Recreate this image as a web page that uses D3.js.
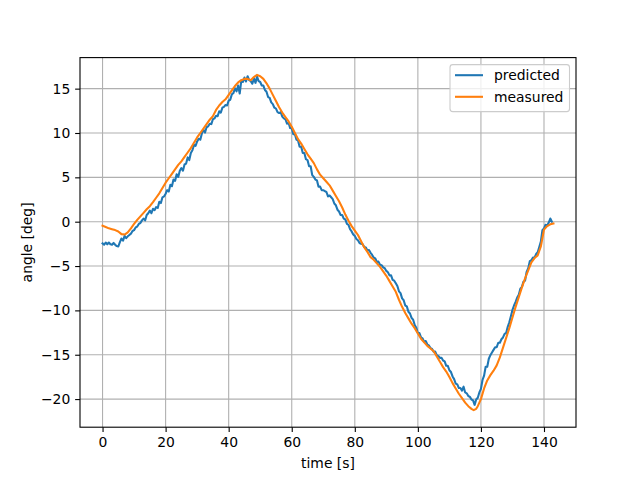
<!DOCTYPE html>
<html><head><meta charset="utf-8">
<script src="https://cdn.jsdelivr.net/npm/d3@7"></script>
<style>body{margin:0;background:#fff}svg{display:block}text{font-family:"DejaVu Sans",sans-serif}</style>
</head><body><svg id="c" width="640" height="480"></svg>
<script>
// predicted: 0.5 s steps from t=0
const predictedStep = 0.5;
const predicted = [
-2.45,-2.6,-2.35,-2.55,-2.35,-2.55,-2.6,-2.4,-2.6,-2.75,
-2.8,-2.3,-1.9,-2.15,-1.6,-1.85,-1.65,-1.5,-1.35,-1.05,
-0.95,-0.65,-0.55,-0.25,-0.15,0.15,0.35,0.15,0.75,0.95,
1.25,0.95,1.45,1.3,1.65,1.55,2.25,2.1,2.75,2.85,
3.15,3.55,3.4,4.15,4.0,4.75,4.6,5.35,5.05,5.75,
6.05,5.75,6.45,6.55,7.25,6.95,7.75,8.05,8.65,8.55,
9.05,9.35,9.25,9.95,10.35,10.05,10.65,10.75,11.05,11.0,
11.55,11.65,11.95,11.9,12.45,12.3,12.85,12.95,13.15,13.1,
13.65,13.75,14.35,14.5,15.05,14.7,15.35,14.45,15.9,15.75,
16.25,15.8,16.4,15.95,15.85,15.55,16.15,15.65,16.35,15.85,
15.75,15.35,15.35,14.85,14.65,14.05,13.95,13.45,13.25,12.85,
12.75,12.35,12.25,12.35,11.85,11.65,11.55,11.05,11.15,10.55,
10.5,9.85,9.85,9.25,9.15,8.45,8.45,7.75,7.75,7.05,
6.95,6.25,6.25,5.25,5.05,4.75,4.65,3.95,3.95,3.55,
3.55,3.45,3.35,2.85,2.95,2.75,2.55,2.05,1.85,1.35,
1.15,0.75,0.75,0.35,0.25,-0.25,-0.35,-0.85,-1.1,-1.45,
-1.6,-1.95,-2.1,-2.4,-2.5,-2.55,-2.85,-2.9,-3.25,-3.2,
-3.5,-3.75,-4.05,-4.15,-4.55,-4.5,-4.85,-4.9,-5.15,-5.25,
-5.55,-5.7,-6.05,-6.05,-6.55,-6.65,-6.95,-7.25,-7.85,-8.05,
-8.65,-8.85,-9.45,-9.55,-10.15,-10.35,-10.85,-11.05,-11.65,-11.95,
-12.55,-12.55,-13.05,-13.15,-13.55,-13.45,-13.85,-13.95,-14.25,-14.35,
-14.65,-14.65,-15.05,-15.15,-15.35,-15.35,-15.65,-15.75,-16.25,-16.25,
-16.75,-16.95,-17.45,-17.75,-18.25,-18.35,-18.75,-18.75,-19.05,-18.6,
-19.25,-19.35,-19.65,-19.75,-20.05,-20.15,-20.65,-20.05,-19.85,-19.25,
-18.85,-17.85,-17.35,-16.35,-16.35,-15.45,-15.05,-14.75,-14.45,-14.15,
-14.15,-13.65,-13.65,-13.25,-13.05,-12.65,-12.55,-11.85,-11.35,-10.65,
-9.95,-9.45,-9.05,-8.55,-8.25,-7.55,-7.35,-6.75,-6.65,-5.65,
-5.25,-4.45,-4.35,-4.05,-4.05,-3.65,-3.45,-2.85,-2.25,-0.95,
-0.75,-0.35,-0.45,-0.1,0.35,0.0];
const measuredT = [0,1,2,3,4,5,6,7,8,9,10,11,12,13,14,15,16,17,18,19,20,21,22,23,24,25,26,27,28,29,30,31,32,33,34,35,36,37,38,39,40,41,42,43,44,45,46,47,48,49,50,51,52,53,54,55,56,57,58,59,60,61,62,63,64,65,66,67,68,69,70,71,72,73,74,75,76,77,78,79,80,81,82,83,84,85,86,87,88,89,90,91,92,93,94,95,96,97,98,99,100,101,102,103,104,105,106,107,108,109,110,111,112,113,114,115,116,117,117.7,118.5,119,120,121,122,123,124,125,126,127,128,129,130,131,132,133,134,135,136,137,138,139,140,141,142,143];
const measured = [-0.45,-0.6,-0.75,-0.85,-0.95,-1.1,-1.4,-1.45,-1.2,-0.75,-0.25,0.2,0.6,1.0,1.4,1.75,2.2,2.7,3.2,3.8,
4.4,4.9,5.4,5.9,6.4,6.8,7.3,7.8,8.3,8.9,9.5,10.0,10.5,11.0,11.5,11.9,12.6,13.1,13.5,13.8,
14.3,14.8,15.3,15.7,15.95,16.1,16.1,15.95,16.3,16.55,16.4,16.1,15.6,15.0,14.3,13.6,12.9,12.3,11.8,11.3,
10.7,10.0,9.3,8.8,8.2,7.6,7.1,6.6,5.9,5.3,4.9,4.5,4.1,3.5,2.9,2.3,1.6,0.8,0.1,-0.5,
-1.0,-1.5,-2.2,-2.9,-3.4,-4.0,-4.3,-4.7,-5.1,-5.6,-6.1,-6.7,-7.3,-7.9,-8.8,-9.6,-10.3,-10.9,-11.5,-12.0,
-12.6,-13.2,-13.6,-14.0,-14.3,-14.6,-15.2,-15.8,-16.4,-16.9,-17.5,-18.2,-18.8,-19.4,-19.9,-20.4,-20.8,-21.1,-21.25,-21.1,
-20.8,-20.0,-18.8,-17.9,-17.3,-16.8,-16.2,-15.3,-14.2,-13.1,-12.0,-10.8,-9.6,-8.5,-7.4,-6.4,-5.5,-4.6,-4.1,-3.8,
-2.8,-0.9,-0.5,-0.3,-0.2];
const xTicks = [0,20,40,60,80,100,120,140];
const yTicks = [-20,-15,-10,-5,0,5,10,15];
const seriesNames = ["predicted","measured"];
const colors = ["#1f77b4","#ff7f0e"];

const L=80,R=576,T=57.6,B=427.2;
const svg=d3.select("#c");
const x=d3.scaleLinear().domain([-7.15,150.15]).range([L,R]);
const y=d3.scaleLinear().domain([-23.17,18.5]).range([B,T]);
const g=svg.append("g");
g.selectAll(".gx").data(xTicks).join("line").attr("x1",d=>x(d)).attr("x2",d=>x(d)).attr("y1",T).attr("y2",B).attr("stroke","#b0b0b0").attr("stroke-width",1.1);
g.selectAll(".gy").data(yTicks).join("line").attr("y1",d=>y(d)).attr("y2",d=>y(d)).attr("x1",L).attr("x2",R).attr("stroke","#b0b0b0").attr("stroke-width",1.1);
svg.append("clipPath").attr("id","cp").append("rect").attr("x",L).attr("y",T).attr("width",R-L).attr("height",B-T);
const line=d3.line().x(d=>x(d[0])).y(d=>y(d[1]));
const pData=predicted.map((v,i)=>[i*predictedStep,v]);
const mData=measured.map((v,i)=>[measuredT[i],v]);
[pData,mData].forEach((d,i)=>svg.append("path").datum(d).attr("d",line).attr("fill","none").attr("stroke",colors[i]).attr("stroke-width",2.08).attr("stroke-linejoin","round").attr("stroke-linecap","square").attr("clip-path","url(#cp)"));
const xa=svg.append("g").attr("transform",`translate(0,${B})`).call(d3.axisBottom(x).tickValues(xTicks).tickSize(4.86).tickPadding(4.86));
const ya=svg.append("g").attr("transform",`translate(${L},0)`).call(d3.axisLeft(y).tickValues(yTicks).tickSize(4.86).tickPadding(4.86).tickFormat(d=>d<0?"\u2212"+Math.abs(d):d));
[xa,ya].forEach(a=>{a.select(".domain").remove();a.selectAll("line").attr("stroke","#000").attr("stroke-width",1.1);a.selectAll("text").attr("font-size",13.9).attr("fill","#000").attr("font-family","DejaVu Sans");});
svg.append("rect").attr("x",L).attr("y",T).attr("width",R-L).attr("height",B-T).attr("fill","none").attr("stroke","#000").attr("stroke-width",1.1);
svg.append("text").attr("x",(L+R)/2).attr("y",468).attr("text-anchor","middle").attr("font-size",13.9).text("time [s]");
svg.append("text").attr("transform","translate(31.5,242.4) rotate(-90)").attr("text-anchor","middle").attr("font-size",13.9).text("angle [deg]");
const lg=svg.append("g");
lg.append("rect").attr("x",450).attr("y",64.6).attr("width",119.5).attr("height",47).attr("rx",2.8).attr("fill","#fff").attr("fill-opacity",0.8).attr("stroke","#cccccc").attr("stroke-width",1.1);
seriesNames.forEach((n,i)=>{
  const yy=75.2+i*21.6;
  lg.append("line").attr("x1",455).attr("x2",483).attr("y1",yy).attr("y2",yy).attr("stroke",colors[i]).attr("stroke-width",2.08);
  lg.append("text").attr("x",494).attr("y",yy+4.9).attr("font-size",13.9).text(n);
});
</script></body></html>
